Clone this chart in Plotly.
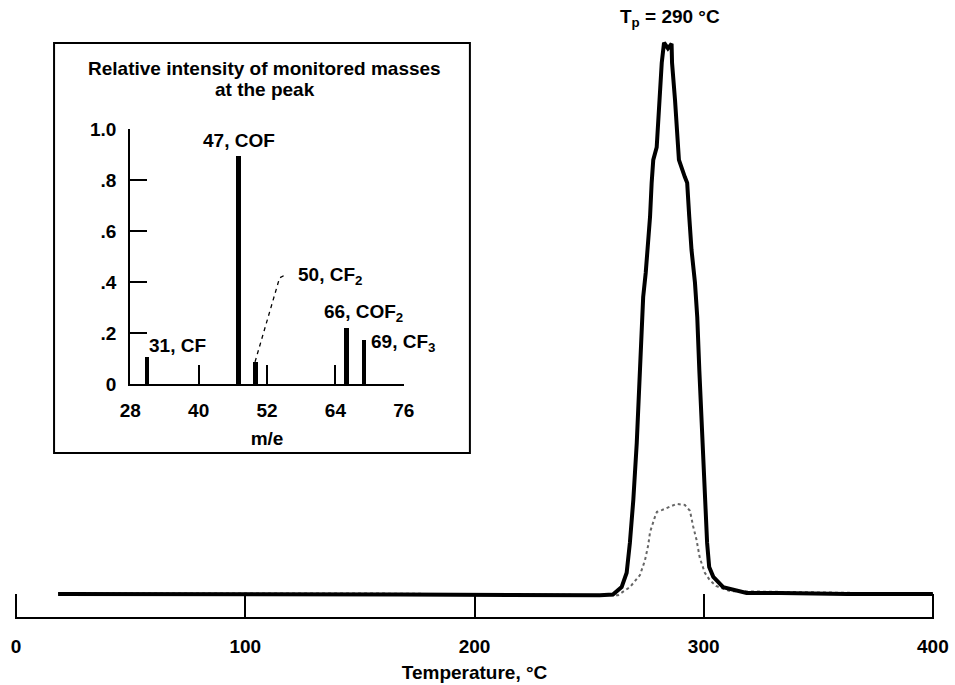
import plotly.graph_objects as go

# ---- main thermal desorption trace (temperature, relative signal) ----
temp_solid = [18.3, 80.3, 167.5, 254.7, 260.4, 264.2, 266.4, 267.8, 269.3, 270.8, 272.2,
              273.1, 273.6, 274.7, 275.6, 276.6, 277.3, 278.0, 279.5, 280.5, 281.7, 282.7,
              284.4, 286.0, 286.2, 287.5, 288.9, 289.2, 291.8, 292.8, 293.7, 294.7, 296.2,
              297.2, 298.1, 299.1, 300.5, 301.5, 302.4, 304.2, 308.5, 314.4, 318.7, 333.3,
              347.7, 362.4, 400.0]
sig_solid = [0.040, 0.039, 0.039, 0.038, 0.039, 0.052, 0.077, 0.129, 0.204, 0.303, 0.418,
             0.500, 0.557, 0.599, 0.639, 0.697, 0.756, 0.796, 0.818, 0.900, 0.965, 1.000,
             0.990, 0.998, 0.965, 0.900, 0.818, 0.796, 0.766, 0.756, 0.697, 0.639, 0.582,
             0.522, 0.430, 0.331, 0.216, 0.129, 0.087, 0.070, 0.052, 0.047, 0.042, 0.042,
             0.041, 0.040, 0.040]

temp_dot = [18.3, 150.0, 262.6, 264.8, 267.8, 272.2, 274.4, 275.8, 276.6, 278.7, 279.6,
            281.7, 285.3, 288.2, 291.8, 294.0, 295.4, 296.9, 298.3, 300.5, 302.7, 305.4,
            311.5, 400.0]
sig_dot = [0.041, 0.041, 0.038, 0.044, 0.052, 0.073, 0.099, 0.125, 0.148, 0.174, 0.183,
           0.186, 0.192, 0.197, 0.195, 0.185, 0.158, 0.134, 0.103, 0.077, 0.064, 0.054,
           0.045, 0.040]

temp_ticks = [0, 100, 200, 300, 400]

# ---- inset: relative intensity of monitored masses ----
mass = [31, 47, 50, 66, 69]
rel_int = [0.105, 0.895, 0.085, 0.218, 0.173]
bar_w = [0.75, 0.95, 0.75, 0.75, 0.75]
mass_ticks = [28, 40, 52, 64, 76]
int_ticks = [0, 0.2, 0.4, 0.6, 0.8, 1.0]
int_ticktext = ["0", ".2", ".4", ".6", ".8", "1.0"]
leader_x = [49.9, 54.2, 55.2]
leader_y = [0.087, 0.416, 0.428]

FONT = "Liberation Sans, Arial, Helvetica, sans-serif"
FS = 19

fig = go.Figure()

fig.add_trace(go.Scatter(x=temp_dot, y=sig_dot, mode="lines",
                         line=dict(color="#666666", width=2, dash="dot"),
                         hoverinfo="skip", showlegend=False))
fig.add_trace(go.Scatter(x=temp_solid, y=sig_solid, mode="lines",
                         line=dict(color="black", width=4),
                         hoverinfo="skip", showlegend=False))

fig.add_trace(go.Bar(x=mass, y=rel_int, width=bar_w, marker=dict(color="black", line=dict(width=0)),
                     xaxis="x2", yaxis="y2", showlegend=False, hoverinfo="skip"))
fig.add_trace(go.Scatter(x=leader_x, y=leader_y, mode="lines",
                         line=dict(color="black", width=1.3, dash="4px,4px"),
                         xaxis="x2", yaxis="y2", showlegend=False, hoverinfo="skip"))

bold = dict(family=FONT, size=FS, color="black", weight="bold")

fig.update_layout(
    width=955, height=685,
    margin=dict(l=15, r=21, t=14, b=68, autoexpand=False),
    paper_bgcolor="white", plot_bgcolor="white",
    font=dict(family=FONT, size=FS, color="black", weight="bold"),
    showlegend=False,
    bargap=0,
    xaxis=dict(range=[-0.5, 400.5], tickvals=temp_ticks, ticks="inside", ticklen=23, tickwidth=2,
               tickcolor="black", showline=True, linewidth=2, linecolor="black",
               showgrid=False, zeroline=False, ticklabelstandoff=11, automargin=False,
               tickfont=dict(family=FONT, size=FS, weight="bold"),
               title=dict(text="Temperature, °C", standoff=10,
                          font=dict(family=FONT, size=FS, weight="bold"))),
    yaxis=dict(range=[0, 1.05], visible=False, showgrid=False, zeroline=False, automargin=False),
    xaxis2=dict(domain=[0.1254, 0.4231], anchor="y2", range=[28, 76], tickvals=mass_ticks,
                ticks="inside", ticklen=19, tickwidth=1.5, tickcolor="black", automargin=False,
                showline=True, linewidth=2, linecolor="black", showgrid=False, zeroline=False,
                ticklabelstandoff=8, tickfont=dict(family=FONT, size=FS, weight="bold"),
                title=dict(text="m/e", standoff=12, font=dict(family=FONT, size=FS, weight="bold"))),
    yaxis2=dict(domain=[0.3864, 0.8093], anchor="x2", range=[0, 1.0], tickvals=int_ticks,
                ticktext=int_ticktext, ticks="inside", ticklen=17, tickwidth=2, tickcolor="black",
                showline=True, linewidth=2, linecolor="black", showgrid=False, zeroline=False,
                automargin=False, ticklabelstandoff=8,
                tickfont=dict(family=FONT, size=FS, weight="bold")),
)

# inset frame
fig.add_shape(type="rect", xref="paper", yref="paper", x0=0.0425, x1=0.495, y0=0.272, y1=0.952,
              line=dict(color="black", width=2), fillcolor="white", layer="below")

# inset title
fig.add_annotation(xref="paper", yref="paper", x=0.2716, y=0.910, text="Relative intensity of monitored masses",
                   showarrow=False, font=bold, xanchor="center", yanchor="middle")
fig.add_annotation(xref="paper", yref="paper", x=0.2716, y=0.874, text="at the peak",
                   showarrow=False, font=bold, xanchor="center", yanchor="middle")

# inset labels
fig.add_annotation(xref="x2", yref="y2", x=47, y=0.953, text="47, COF", showarrow=False,
                   font=bold, xanchor="center", yanchor="middle")
fig.add_annotation(xref="x2", yref="y2", x=31, y=0.150, text="31, CF", showarrow=False,
                   font=bold, xanchor="left", yanchor="middle")
fig.add_annotation(xref="x2", yref="y2", x=57.0, y=0.424, text="50, CF<sub>2</sub>", showarrow=False,
                   font=bold, xanchor="left", yanchor="middle")
fig.add_annotation(xref="x2", yref="y2", x=68.9, y=0.280, text="66, COF<sub>2</sub>", showarrow=False,
                   font=bold, xanchor="center", yanchor="middle")
fig.add_annotation(xref="x2", yref="y2", x=69.9, y=0.160, text="69, CF<sub>3</sub>", showarrow=False,
                   font=bold, xanchor="left", yanchor="middle")

# peak temperature label
fig.add_annotation(xref="x", yref="y", x=285.5, y=1.043, text="T<sub>p</sub> = 290 °C", showarrow=False,
                   font=bold, xanchor="center", yanchor="middle")

fig.write_html("out.html", config={"displayModeBar": False},
               post_script="document.body.style.margin='0';document.body.style.overflow='hidden';")
